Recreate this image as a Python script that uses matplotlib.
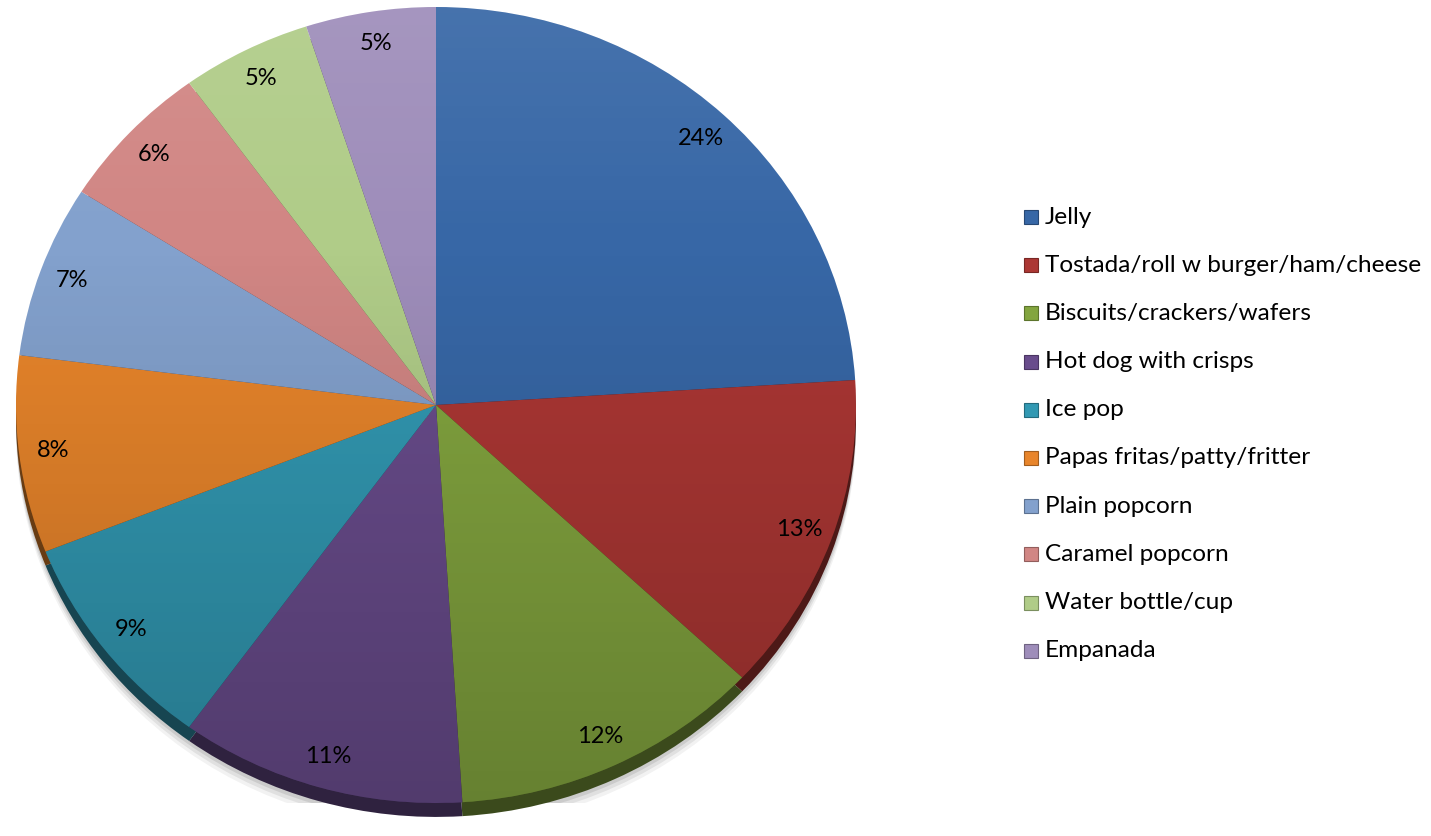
import matplotlib
matplotlib.use("Agg")
import matplotlib.pyplot as plt
import numpy as np
from matplotlib.patches import Circle, Rectangle
import matplotlib.colors as mcolors

labels = ["Jelly", "Tostada/roll w burger/ham/cheese", "Biscuits/crackers/wafers",
          "Hot dog with crisps", "Ice pop", "Papas fritas/patty/fritter",
          "Plain popcorn", "Caramel popcorn", "Water bottle/cup", "Empanada"]
values = [24, 13, 12, 11, 9, 8, 7, 6, 5, 5]
colors = ["#3767A6", "#AC3734", "#83A53F", "#694C8C", "#3299B3", "#E8852B",
          "#83A1CD", "#D18684", "#B0CC88", "#9E8DBA"]

plt.rcParams['font.family'] = ['Lato', 'DejaVu Sans']

W, H = 1431, 836
fig = plt.figure(figsize=(W / 100, H / 100), dpi=100)

# pie axes in pixel geometry
cx, cy, a, b = 436, 405, 420, 398
ax = fig.add_axes([(cx - a) / W, (H - cy - b) / H, 2 * a / W, 2 * b / H])

def darker(c, f):
    r, g, bb = mcolors.to_rgb(c)
    return (r * f, g * f, bb * f)

# soft shadow
for off, al in [(0.065, 0.05), (0.055, 0.07), (0.045, 0.09)]:
    ax.add_patch(Circle((0.0, -off), 1.0, color="black", alpha=al, lw=0, zorder=0))

# rim (3D depth)
ax.pie(values, colors=[darker(c, 0.45) for c in colors], startangle=90,
       counterclock=False, radius=1.0, center=(0, -0.035),
       wedgeprops=dict(linewidth=0))

wedges, texts, autotexts = ax.pie(
    values, colors=colors, startangle=90, counterclock=False, radius=1.0,
    autopct=lambda p: f"{p:.0f}%", pctdistance=0.92,
    wedgeprops=dict(linewidth=0), textprops=dict(fontsize=17, color="black"))
for t in autotexts:
    t.set_zorder(10)

# gradient shading overlay
n = 256
img = np.zeros((n, 4, 4))
t = np.linspace(0, 1, n)
img[:, :, 0:3] = np.where(t < 0.3, 1.0, 0.0)[:, None, None]
alpha = np.where(t < 0.3, 0.08 * (0.3 - t) / 0.3, 0.22 * (t - 0.3) / 0.7)
img[:, :, 3] = alpha[:, None]
im = ax.imshow(img, extent=(-1, 1, -1, 1), aspect='auto', zorder=5,
               interpolation='bilinear')
clip = Circle((0, 0), 1.0, transform=ax.transData)
im.set_clip_path(clip)

ax.set_aspect('auto')
ax.set_xlim(-1, 1)
ax.set_ylim(-1, 1)
ax.axis('off')

# legend
lx, ly0, dy = 1024, 217, 48.2
for i, (lab, col) in enumerate(zip(labels, colors)):
    y = ly0 + i * dy
    fig.patches.append(Rectangle(((lx) / W, (H - y - 7) / H), 14 / W, 14 / H,
                                 transform=fig.transFigure, facecolor=col,
                                 edgecolor=darker(col, 0.7), linewidth=0.8))
    fig.text((lx + 21) / W, (H - y) / H, lab, fontsize=17.6, va='center',
             ha='left', color='black')

fig.savefig("out.png", dpi=100)
